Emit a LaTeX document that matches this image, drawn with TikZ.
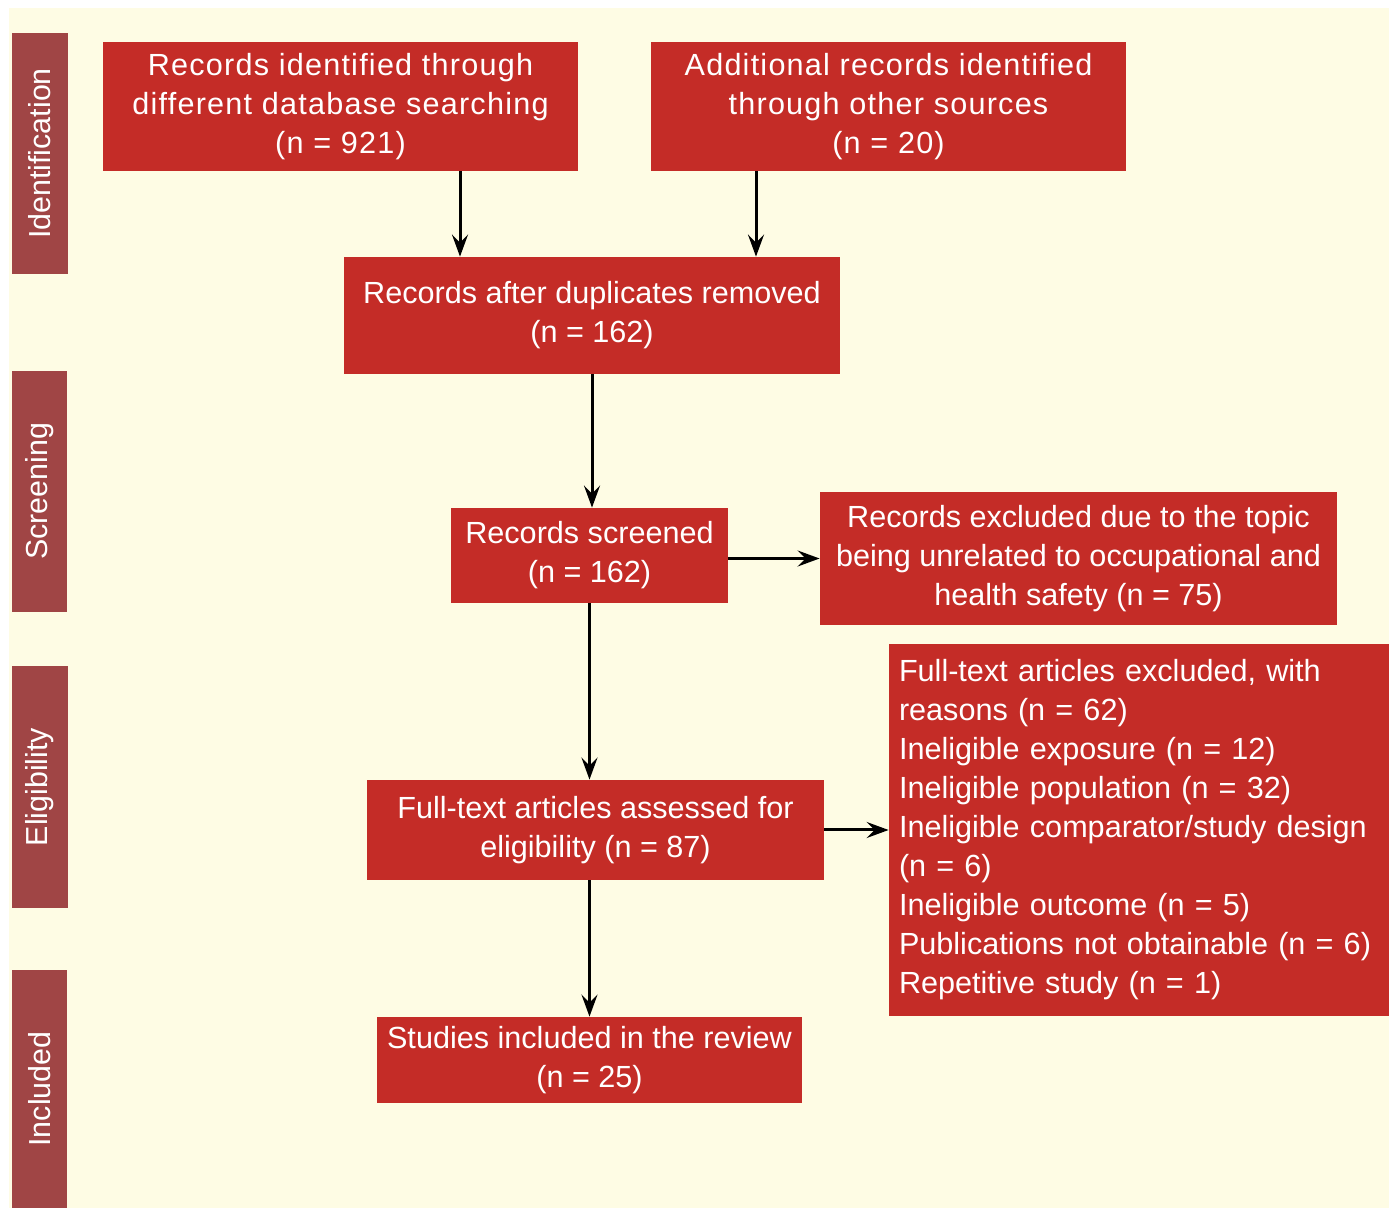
\documentclass[tikz,border=0pt]{standalone}
\usepackage{fontspec}
\setmainfont{Liberation Sans}
\newfontfamily\widesans[LetterSpace=4.0]{Liberation Sans}
\usetikzlibrary{arrows.meta}
\definecolor{cream}{RGB}{254,252,228}
\definecolor{boxred}{RGB}{196,44,39}
\definecolor{sidered}{RGB}{160,69,69}
\tikzset{
  box/.style={fill=boxred, text=white, inner sep=0pt, align=center,
    font=\fontsize{15.3}{19.5}\selectfont},
  topbox/.style={box, font=\widesans\fontsize{15.3}{19.5}\selectfont},
  side/.style={fill=sidered, text=white, inner sep=0pt},
  sidetext/.style={rotate=90, text=white, inner sep=0pt,
    font=\fontsize{15.2}{18}\selectfont},
  arr/.style={line width=1.5pt, -{Stealth[length=11pt, width=8pt, inset=4pt]}}
}
\begin{document}
\begin{tikzpicture}[x=0.5pt, y=-0.5pt]
\useasboundingbox (0,0) rectangle (1389,1208);
\fill[cream] (9,8) rectangle (1389,1208);

% side bars
\node[side, minimum width=28pt, minimum height=120.5pt] (s1) at (40,153.5) {};
\node[sidetext] (t1) at (s1.center) {Identification};
\node[side, minimum width=27.5pt, minimum height=120.5pt] (s2) at (39.5,491.5) {};
\node[sidetext] (t2) at (s2.center) {Screening};
\node[side, minimum width=28pt, minimum height=121pt] (s3) at (40,787) {};
\node[sidetext] (t3) at (s3.center) {Eligibility};
\node[side, minimum width=27.5pt, minimum height=119pt] (s4) at (39.5,1089) {};
\node[sidetext] (t4) at (s4.center) {Included};

% boxes
\node[topbox, minimum width=237.5pt, minimum height=64.5pt] (A) at (340.5,106.5)
  {Records identified through\\different database searching\\(n = 921)};
\node[topbox, minimum width=237.5pt, minimum height=64.5pt] (B) at (888.5,106.5)
  {Additional records identified\\through other sources\\(n = 20)};
\node[box, minimum width=248pt, minimum height=58.5pt] (C) at (592,315.5)
  {Records after duplicates removed\\(n = 162)};
\node[box, minimum width=138.5pt, minimum height=47.5pt] (D) at (589.5,555.5)
  {Records screened\\(n = 162)};
\node[box, minimum width=258.5pt, minimum height=66.5pt] (E) at (1078.5,558.5)
  {Records excluded due to the topic\\being unrelated to occupational and\\health safety (n = 75)};
\node[box, minimum width=250pt, minimum height=186pt, align=left, text width=240pt] (F) at (1139,830)
  {Full-text articles excluded, with\\reasons (n = 62)\\Ineligible exposure (n = 12)\\Ineligible population (n = 32)\\Ineligible comparator/study design\\(n = 6)\\Ineligible outcome (n = 5)\\Publications not obtainable (n = 6)\\Repetitive study (n = 1)};
\node[box, minimum width=228.5pt, minimum height=50pt] (G) at (595.5,830)
  {Full-text articles assessed for\\eligibility (n = 87)};
\node[box, minimum width=212.5pt, minimum height=43pt] (H) at (589.5,1060)
  {Studies included in the review\\(n = 25)};

% helper coordinates
\coordinate (xa) at (460,0);
\coordinate (xb) at (756,0);

% connectors
\draw[arr] (A.south -| xa) -- (C.north -| xa);
\draw[arr] (B.south -| xb) -- (C.north -| xb);
\draw[arr] (C.south) -- (C.south |- D.north);
\draw[arr] (D.east |- E.west) -- (E.west);
\draw[arr] (D.south) -- (D.south |- G.north);
\draw[arr] (G.east) -- (F.west);
\draw[arr] (H.north |- G.south) -- (H.north);
\end{tikzpicture}
\end{document}
